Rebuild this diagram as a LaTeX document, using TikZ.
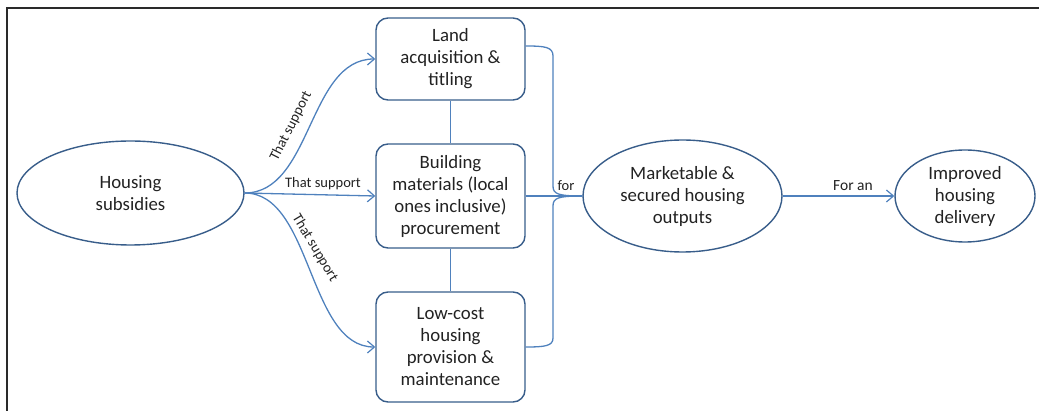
\documentclass[tikz,border=0pt]{standalone}
\usepackage{fontspec}
\setmainfont{Carlito}
\usetikzlibrary{shapes.geometric,arrows.meta}
\definecolor{nodeblue}{HTML}{385D8A}
\definecolor{lineblue}{HTML}{4F81BD}
\definecolor{txt}{HTML}{222222}
\definecolor{framec}{HTML}{2A2A2A}
\tikzset{
  oval/.style={ellipse, draw=nodeblue, line width=1.4pt, inner sep=0pt, align=center, text=txt, font=\fontsize{18.8}{22}\selectfont},
  stepbox/.style={rectangle, rounded corners=12pt, draw=nodeblue, line width=1.4pt, minimum width=149pt, inner sep=0pt, align=center, text=txt, font=\fontsize{18.8}{22}\selectfont},
  conn/.style={draw=lineblue, line width=1.3pt},
  arr/.style={conn, -{Straight Barb[length=7pt,width=12pt,line width=1.2pt]}},
  lbl/.style={text=txt, font=\fontsize{14.5}{16}\selectfont, inner sep=0pt}
}
\begin{document}
\begin{tikzpicture}[x=1pt,y=-1pt]
\useasboundingbox (0,0) rectangle (1039,411);
\draw[framec, line width=2pt] (7,412) -- (7,8) -- (1040,8);

\node[oval, minimum width=227pt, minimum height=104pt] (hs) at (130.5,193) {Housing\\subsidies};
\node[stepbox, minimum height=82pt] (land) at (450.5,59) {Land\\acquisition \&\\titling};
\node[stepbox, minimum height=104pt] (build) at (450.5,196) {Building\\materials (local\\ones inclusive)\\procurement};
\node[stepbox, minimum height=110pt] (low) at (450.5,347) {Low-cost\\housing\\provision \&\\maintenance};
\node[oval, minimum width=199pt, minimum height=112pt] (mk) at (682.5,196) {Marketable \&\\secured housing\\outputs};
\node[oval, minimum width=140pt, minimum height=92pt] (imp) at (965,196) {Improved\\housing\\delivery};

% links between boxes
\draw[conn] (land.south) -- (build.north);
\draw[conn] (build.south) -- (low.north);

% arrows from housing subsidies
\draw[arr] (hs.east) .. controls (312,193) and (308,59) .. (land.west);
\draw[arr] (hs.east) -- (build.west);
\draw[arr] (hs.east) .. controls (312,193) and (308,347) .. (low.west);

\node[lbl, rotate=63] (l1) at (291,126) {That support};
\node[lbl] (l2) at (323,184) {That support};
\node[lbl, rotate=-59] (l3) at (315,248) {That support};

% brace to marketable
\draw[conn] ([yshift=13pt]land.east) .. controls (545,46) and (553,47) .. (553,56) -- (553,186) .. controls (553,194) and (558,196) .. (mk.west);
\draw[conn] (build.east) -- (mk.west);
\draw[conn] (low.east) .. controls (545,347) and (553,346) .. (553,338) -- (553,206) .. controls (553,198) and (558,196) .. (mk.west);
\node[lbl] (for) at (566,186) {for};

\draw[arr] (mk.east) -- (imp.west);
\node[lbl, font=\fontsize{15.5}{17}\selectfont] (foran) at (853,186) {For an};
\end{tikzpicture}
\end{document}
